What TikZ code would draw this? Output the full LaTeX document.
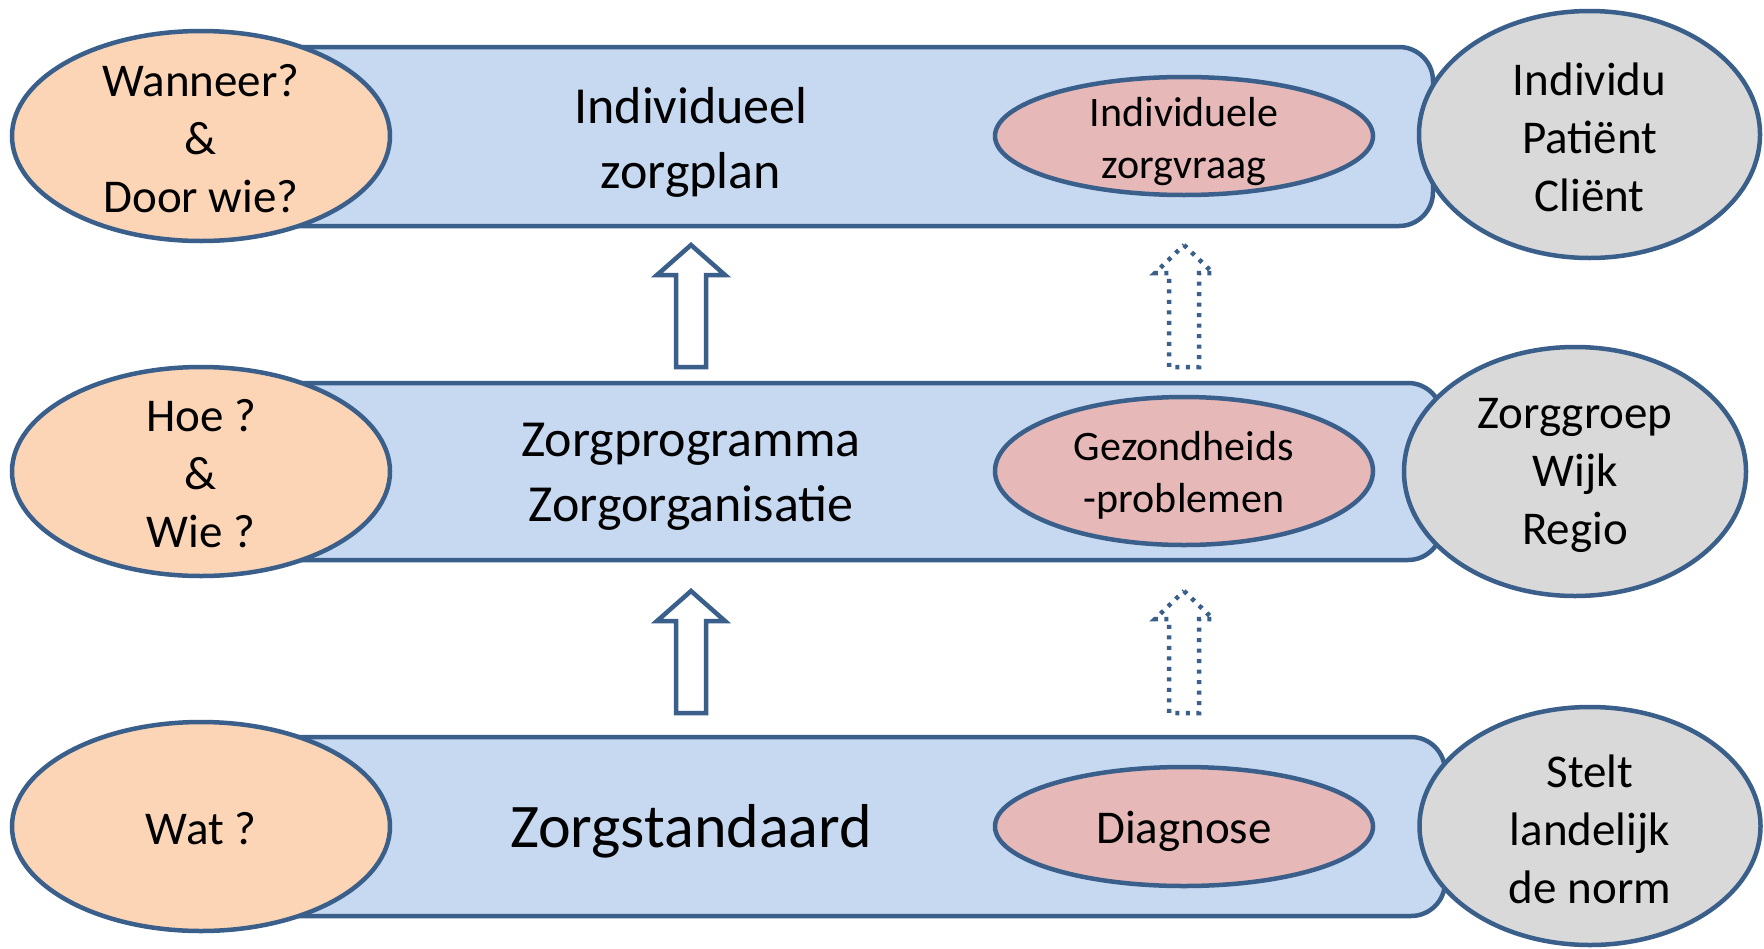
\documentclass[tikz,border=0pt]{standalone}
\usepackage{fontspec}
\setmainfont{Carlito}
\usetikzlibrary{shapes.geometric}
\definecolor{edge}{HTML}{3A5F8B}
\definecolor{barfill}{HTML}{C6D9F1}
\definecolor{askfill}{HTML}{FBD5B5}
\definecolor{pinkfill}{HTML}{E6B9B8}
\definecolor{grayfill}{HTML}{D9D9D9}
\tikzset{
  bar/.style={draw=edge, fill=barfill, line width=4.5pt, rounded corners=34pt, inner sep=0pt, rectangle},
  oval/.style={ellipse, draw=edge, line width=4.5pt, inner sep=0pt},
  askoval/.style={oval, fill=askfill, minimum width=378pt},
  whooval/.style={oval, fill=grayfill, minimum width=341pt},
  pinkoval/.style={oval, fill=pinkfill, minimum width=378pt},
  txt/.style={align=center, inner sep=0pt, text=black},
  bigtxt/.style={txt, font=\fontsize{47}{58}\selectfont},
  smalltxt/.style={txt, font=\fontsize{42}{52}\selectfont},
  maintxt/.style={txt, font=\fontsize{52}{65}\selectfont},
  solidarrow/.style={draw=edge, fill=white, line width=4.5pt, line join=miter},
  dotarrow/.style={draw=edge, fill=white, line width=4.5pt, dash pattern=on 4pt off 6.5pt},
}
\begin{document}
\begin{tikzpicture}[x=1pt,y=-1pt]
\useasboundingbox[fill=white] (0,0) rectangle (1764,948);

% bars
\node[bar, minimum width=1203pt, minimum height=179pt] (bar1) at (831.5,136.5) {};
\node[bar, minimum width=1212pt, minimum height=177pt] (bar2) at (836,471.5) {};
\node[bar, minimum width=1215pt, minimum height=179pt] (bar3) at (837.5,826.5) {};

% main texts
\node[maintxt] (t1) at (691,142) {Individueel\\zorgplan};
\node[maintxt] (t2) at (691,476.5) {Zorgprogramma\\Zorgorganisatie};
\node[txt, font=\fontsize{62}{74}\selectfont] (t3) at (691,831) {Zorgstandaard};

% left question ellipses
\node[askoval, minimum height=210pt] (q1) at (201,136) {};
\node[askoval, minimum height=209pt] (q2) at (201,471.5) {};
\node[askoval, minimum height=209pt] (q3) at (201,826.5) {};
\node[bigtxt] (q1t) at ([yshift=-2.5pt]q1.center) {Wanneer?\\\&\\Door wie?};
\node[bigtxt] (q2t) at ([yshift=-2.5pt]q2.center) {Hoe ?\\\&\\Wie ?};
\node[bigtxt] (q3t) at ([yshift=-2.5pt]q3.center) {Wat ?};

% right grey ellipses
\node[whooval, minimum height=247pt] (w1) at (1589.5,134.5) {};
\node[whooval, minimum width=342pt, minimum height=249pt] (w2) at (1575,471.5) {};
\node[whooval, minimum height=238pt] (w3) at (1590,826) {};
\node[bigtxt] (w1t) at ([yshift=-3pt]w1.center) {Individu\\Patiënt\\Cliënt};
\node[bigtxt] (w2t) at ([yshift=-3.5pt]w2.center) {Zorggroep\\Wijk\\Regio};
\node[bigtxt] (w3t) at ([yshift=-3pt]w3.center) {Stelt\\landelijk\\de norm};

% pink ellipses
\node[pinkoval, minimum height=118pt] (p1) at (1184,136) {};
\node[pinkoval, minimum height=148pt] (p2) at (1184,471) {};
\node[pinkoval, minimum height=119pt] (p3) at (1184,826.5) {};
\node[smalltxt] (p1t) at ([yshift=-5.5pt]p1.center) {Individuele\\zorgvraag};
\node[smalltxt] (p2t) at ([yshift=-4.5pt]p2.center) {Gezondheids\\-problemen};
\node[bigtxt] (p3t) at ([yshift=-4.5pt]p3.center) {Diagnose};

% block arrows
\foreach \dy in {0,346}{
  \begin{scope}[yshift=-\dy pt]
    \draw[solidarrow] (691,245) -- (725,275) -- (706,275) -- (706,367) -- (676,367) -- (676,275) -- (657,275) -- cycle;
    \draw[dotarrow] (1184,245) -- (1213,273) -- (1199,273) -- (1199,367) -- (1169,367) -- (1169,273) -- (1155,273) -- cycle;
  \end{scope}
}
\end{tikzpicture}
\end{document}
